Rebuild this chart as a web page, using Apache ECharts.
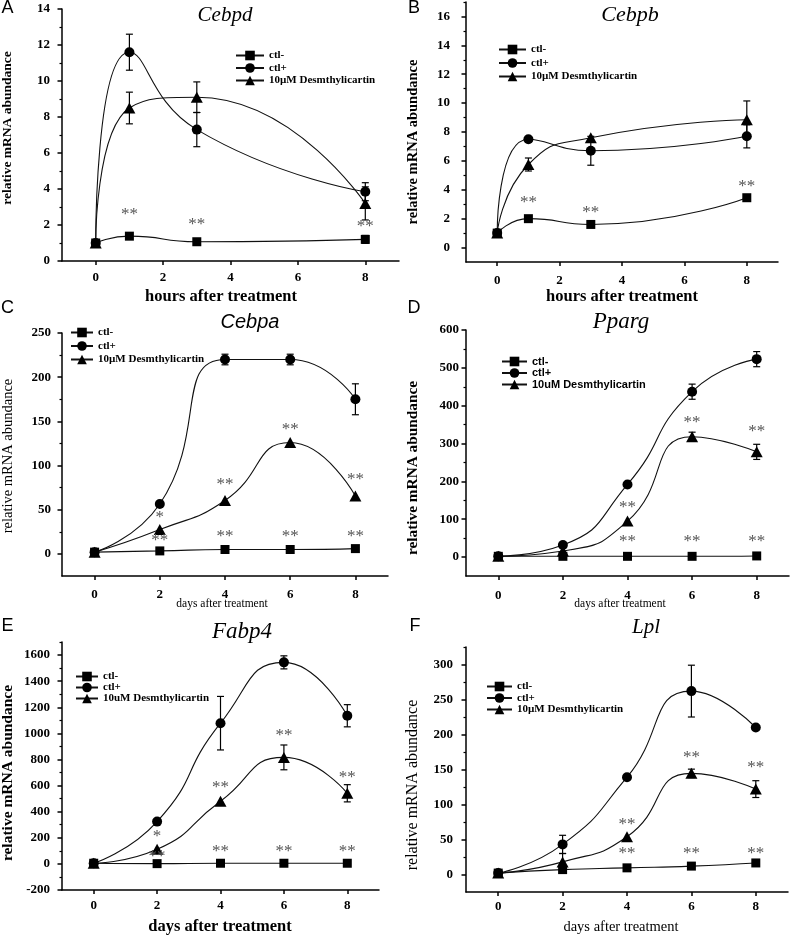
<!DOCTYPE html>
<html><head><meta charset="utf-8">
<script src="https://cdn.jsdelivr.net/npm/echarts@6/dist/echarts.min.js"></script>
<style>html,body{margin:0;padding:0;background:#fff}#c{width:796px;height:936px}</style>
</head><body><div id="c"></div>
<script>
// ---------- data ----------
const hoursX = [0, 1, 3, 8];
const daysX = [0, 2, 4, 6, 8];
const xTickValues = [0, 2, 4, 6, 8];

// A: Cebpd (hours)
const A_ctlMinus = [1.0, 1.38, 1.07, 1.2];
const A_ctlMinusErr = [0, 0, 0, 0.22];
const A_ctlPlus = [1.0, 11.6, 7.3, 3.85];
const A_ctlPlusErr = [0, 1.0, 0.95, 0.5];
const A_desm = [1.0, 8.5, 9.1, 3.2];
const A_desmErr = [0, 0.88, 0.85, 0.92];
const A_stars = [[1, 2.6, '**'], [3, 2.0, '**'], [8, 1.9, '**']];
const A_yMajor = [0, 2, 4, 6, 8, 10, 12, 14];
const A_yMinor = [1, 3, 5, 7, 9, 11, 13];

// B: Cebpb (hours)
const B_ctlMinus = [1.0, 2.0, 1.6, 3.45];
const B_ctlMinusErr = [0, 0, 0, 0];
const B_ctlPlus = [1.0, 7.5, 6.7, 7.7];
const B_ctlPlusErr = [0, 0, 1.0, 0.8];
const B_desm = [1.0, 5.75, 7.6, 8.85];
const B_desmErr = [0, 0.45, 0, 1.3];
const B_stars = [[1, 3.1, '**'], [3, 2.4, '**'], [8, 4.2, '**']];
const B_yMajor = [0, 2, 4, 6, 8, 10, 12, 14, 16];
const B_yMinor = [1, 3, 5, 7, 9, 11, 13, 15, 17];

// C: Cebpa (days)
const C_ctlMinus = [2, 3.4, 5, 5, 6];
const C_ctlMinusErr = [0, 0, 0, 0, 0];
const C_ctlPlus = [2, 56.5, 220, 220, 175];
const C_ctlPlusErr = [0, 0, 6, 6, 17.5];
const C_desm = [2, 27.5, 60.5, 126, 65.5];
const C_desmErr = [0, 0, 0, 0, 0];
const C_stars = [[2, 41, '*'], [2, 15.5, '**'], [4, 79, '**'], [6, 140.5, '**'], [8, 84.5, '**'],
                 [4, 20, '**'], [6, 20, '**'], [8, 20, '**']];
const C_yMajor = [0, 50, 100, 150, 200, 250];
const C_yMinor = [25, 75, 125, 175, 225];

// D: Pparg (days)
const D_ctlMinus = [2, 2, 2, 2, 3];
const D_ctlMinusErr = [0, 0, 0, 0, 0];
const D_ctlPlus = [2, 32, 192, 437, 523];
const D_ctlPlusErr = [0, 0, 0, 20, 20];
const D_desm = [2, 16, 95, 318, 278];
const D_desmErr = [0, 0, 0, 12, 20];
const D_stars = [[4, 130, '**'], [6, 355, '**'], [8, 331, '**'],
                 [4, 40, '**'], [6, 40, '**'], [8, 40, '**']];
const D_yMajor = [0, 100, 200, 300, 400, 500, 600];
const D_yMinor = [50, 150, 250, 350, 450, 550];

// E: Fabp4 (days)
const E_ctlMinus = [5, 2, 5, 5, 5];
const E_ctlMinusErr = [0, 0, 0, 0, 0];
const E_ctlPlus = [5, 324, 1078, 1544, 1135];
const E_ctlPlusErr = [0, 0, 205, 50, 85];
const E_desm = [5, 112, 480, 816, 541];
const E_desmErr = [0, 0, 0, 95, 66];
const E_stars = [[2, 212, '*'], [2, 56, '**'], [4, 587, '**'], [6, 985, '**'], [8, 663, '**'],
                 [4, 92, '**'], [6, 92, '**'], [8, 92, '**']];
const E_yMajor = [-200, 0, 200, 400, 600, 800, 1000, 1200, 1400, 1600];
const E_yMinor = [-100, 100, 300, 500, 700, 900, 1100, 1300, 1500, 1700];

// F: Lpl (days)
const F_ctlMinus = [2, 7, 9.5, 12, 16.5];
const F_ctlMinusErr = [0, 0, 0, 0, 0];
const F_ctlPlus = [2, 43, 139, 262, 210];
const F_ctlPlusErr = [0, 13, 0, 37, 0];
const F_desm = [2, 18, 54, 144.5, 122];
const F_desmErr = [0, 12, 0, 6, 12];
const F_stars = [[4, 72, '**'], [6, 166.5, '**'], [8, 153, '**'],
                 [4, 30, '**'], [6, 30, '**'], [8, 30, '**']];
const F_yMajor = [0, 50, 100, 150, 200, 250, 300];
const F_yMinor = [25, 75, 125, 175, 225, 275, 325];

const nameMinus = 'ctl-';
const namePlus = 'ctl+';
const nameDesmMu = '10\u00B5M Desmthylicartin';
const nameDesmU = '10uM Desmthylicartin';

const panelLetters = ['A', 'B', 'C', 'D', 'E', 'F'];
const geneTitles = ['Cebpd', 'Cebpb', 'Cebpa', 'Pparg', 'Fabp4', 'Lpl'];
const xNames = ['hours after treatment', 'hours after treatment', 'days after treatment',
                'days after treatment', 'days after treatment', 'days after treatment'];
const yName = 'relative mRNA abundance';

// ---------- layout ----------
const SERIF = '"Liberation Serif","Times New Roman",serif';
const SANS = '"Liberation Sans",Arial,sans-serif';

const panels = [
  {x: hoursX, s: [A_ctlMinus, A_ctlPlus, A_desm], e: [A_ctlMinusErr, A_ctlPlusErr, A_desmErr], stars: A_stars,
   major: A_yMajor, minor: A_yMinor, ymin: 0, ymax: 14, desm: nameDesmMu,
   grid: {left: 62, top: 9, width: 337, height: 252}, ylm: 12, xlm: 10,
   legend: {left: 235, top: 50, itemWidth: 28, itemGap: 1.5, font: SERIF},
   letter: [7.5, 8], title: [225, 15, 'italic 21px ' + SERIF],
   xname: [221, 297, 'bold 16.5px ' + SERIF], yname: [8, 128, 'bold 13.5px ' + SERIF]},
  {x: hoursX, s: [B_ctlMinus, B_ctlPlus, B_desm], e: [B_ctlMinusErr, B_ctlPlusErr, B_desmErr], stars: B_stars,
   major: B_yMajor, minor: B_yMinor, ymin: -1, ymax: 17, desm: nameDesmMu,
   grid: {left: 466, top: 2, width: 312, height: 260}, ylm: 16, xlm: 12,
   legend: {left: 498, top: 44, itemWidth: 27, itemGap: 2.5, font: SERIF},
   letter: [414, 8.5], title: [630, 15, 'italic 22px ' + SERIF],
   xname: [622, 297, 'bold 16.5px ' + SERIF], yname: [413, 142, 'bold 14.5px ' + SERIF]},
  {x: daysX, s: [C_ctlMinus, C_ctlPlus, C_desm], e: [C_ctlMinusErr, C_ctlPlusErr, C_desmErr], stars: C_stars,
   major: C_yMajor, minor: C_yMinor, ymin: -25, ymax: 250, desm: nameDesmMu,
   grid: {left: 62, top: 333, width: 326, height: 243}, ylm: 11, xlm: 12.5,
   legend: {left: 70, top: 327, itemWidth: 22, itemGap: 2.5, font: SERIF},
   letter: [7.5, 308], title: [250, 322, 'italic 20px ' + SANS],
   xname: [222, 604, '11.5px ' + SERIF], yname: [8, 456, '14.5px ' + SERIF]},
  {x: daysX, s: [D_ctlMinus, D_ctlPlus, D_desm], e: [D_ctlMinusErr, D_ctlPlusErr, D_desmErr], stars: D_stars,
   major: D_yMajor, minor: D_yMinor, ymin: -50, ymax: 600, desm: nameDesmU,
   grid: {left: 466, top: 330, width: 323, height: 246}, ylm: 7, xlm: 13,
   legend: {left: 501, top: 356, itemWidth: 25, itemGap: 0.5, font: SANS},
   letter: [414, 308], title: [621, 322, 'italic 23px ' + SERIF],
   xname: [620, 604, '11.5px ' + SERIF], yname: [413, 468, 'bold 15.3px ' + SERIF]},
  {x: daysX, s: [E_ctlMinus, E_ctlPlus, E_desm], e: [E_ctlMinusErr, E_ctlPlusErr, E_desmErr], stars: E_stars,
   major: E_yMajor, minor: E_yMinor, ymin: -200, ymax: 1700, desm: nameDesmU,
   grid: {left: 62, top: 642, width: 317, height: 248}, ylm: 12, xlm: 9,
   legend: {left: 75, top: 671, itemWidth: 22, itemGap: 0, font: SERIF},
   letter: [7.5, 626], title: [242, 632, 'italic 23px ' + SERIF],
   xname: [220, 927, 'bold 16.5px ' + SERIF], yname: [8, 773, 'bold 15.5px ' + SERIF]},
  {x: daysX, s: [F_ctlMinus, F_ctlPlus, F_desm], e: [F_ctlMinusErr, F_ctlPlusErr, F_desmErr], stars: F_stars,
   major: F_yMajor, minor: F_yMinor, ymin: -25, ymax: 325, desm: nameDesmMu,
   grid: {left: 466, top: 647, width: 322, height: 245}, ylm: 13, xlm: 8.5,
   legend: {left: 486, top: 681, itemWidth: 25, itemGap: 0.5, font: SERIF},
   letter: [415, 626], title: [646, 627, 'italic 21px ' + SERIF],
   xname: [621, 927, '14.5px ' + SERIF], yname: [413, 785, '16px ' + SERIF]}
];

const symbols = [['rect', 9], ['circle', 10], ['triangle', [12, 11]]];
const plainNumber = v => String(v);

const option = {
  animation: false,
  backgroundColor: '#fff',
  grid: [], xAxis: [], yAxis: [], series: [], legend: [], graphic: []
};

panels.forEach((p, gi) => {
  option.grid.push(Object.assign({containLabel: false}, p.grid));
  option.xAxis.push({
    type: 'value', gridIndex: gi, min: -1, max: 9, position: 'bottom',
    axisLine: {onZero: false, lineStyle: {color: '#000', width: 1.5}},
    axisTick: {show: true, inside: false, length: 4, customValues: xTickValues, lineStyle: {color: '#000', width: 1.5}},
    axisLabel: {customValues: xTickValues, formatter: plainNumber, margin: p.xlm, color: '#000', fontFamily: SERIF, fontWeight: 'bold', fontSize: 13},
    splitLine: {show: false}
  });
  option.yAxis.push({
    type: 'value', gridIndex: gi, min: p.ymin, max: p.ymax, position: 'left',
    axisLine: {onZero: false, lineStyle: {color: '#000', width: 1.5}},
    axisTick: {show: true, inside: false, length: 4.5, customValues: p.major, lineStyle: {color: '#000', width: 1.5}},
    axisLabel: {customValues: p.major, formatter: plainNumber, margin: p.ylm, color: '#000', fontFamily: SERIF, fontWeight: 'bold', fontSize: 13},
    splitLine: {show: false}
  });
  option.yAxis.push({
    type: 'value', gridIndex: gi, min: p.ymin, max: p.ymax, position: 'left',
    axisLine: {show: false, onZero: false},
    axisTick: {show: true, inside: false, length: 2.5, customValues: p.minor, lineStyle: {color: '#000', width: 1.2}},
    axisLabel: {show: false},
    splitLine: {show: false}
  });
  const names = [nameMinus, namePlus, p.desm];
  p.s.forEach((ys, k) => {
    option.series.push({
      type: 'line', name: names[k], xAxisIndex: gi, yAxisIndex: gi * 2,
      data: p.x.map((x, i) => [x, ys[i]]),
      smooth: 0.55, symbol: symbols[k][0], symbolSize: symbols[k][1], showSymbol: true,
      lineStyle: {color: '#111', width: 1.1}, itemStyle: {color: '#000'}, z: 4, silent: true
    });
    const errs = p.e[k];
    const ed = p.x.map((x, i) => [x, ys[i], errs[i]]).filter(d => d[2] > 0);
    if (ed.length) {
      option.series.push({
        type: 'custom', xAxisIndex: gi, yAxisIndex: gi * 2, data: ed, z: 3, silent: true,
        encode: {x: 0, y: 1},
        renderItem: function (params, api) {
          const x = api.value(0), y = api.value(1), e = api.value(2);
          const t = api.coord([x, y + e]), b = api.coord([x, y - e]);
          const w = 3.5, st = {stroke: '#000', lineWidth: 1.2};
          return {type: 'group', children: [
            {type: 'line', shape: {x1: t[0], y1: t[1], x2: b[0], y2: b[1]}, style: st},
            {type: 'line', shape: {x1: t[0] - w, y1: t[1], x2: t[0] + w, y2: t[1]}, style: st},
            {type: 'line', shape: {x1: b[0] - w, y1: b[1], x2: b[0] + w, y2: b[1]}, style: st}
          ]};
        }
      });
    }
  });
  const stars = p.stars;
  option.series.push({
    type: 'custom', xAxisIndex: gi, yAxisIndex: gi * 2, silent: true, z: 5,
    data: stars.map(s => [s[0], s[1]]), encode: {x: 0, y: 1},
    renderItem: function (params, api) {
      const c = api.coord([api.value(0), api.value(1)]);
      return {type: 'text', x: c[0], y: c[1], style: {
        text: stars[params.dataIndex][2], fill: '#555', font: '17px ' + SERIF,
        align: 'center', verticalAlign: 'middle', textAlign: 'center', textVerticalAlign: 'middle'}};
    }
  });
  option.legend.push({
    data: names, orient: 'vertical', left: p.legend.left, top: p.legend.top,
    itemWidth: p.legend.itemWidth, itemHeight: 12, itemGap: p.legend.itemGap, padding: 0,
    selectedMode: false,
    textStyle: {fontFamily: p.legend.font, fontWeight: 'bold', fontSize: 11, color: '#000'}
  });
  const g = option.graphic;
  g.push({type: 'text', x: p.letter[0], y: p.letter[1], style: {text: panelLetters[gi], font: '18px ' + SANS, fill: '#000', align: 'center', verticalAlign: 'middle'}});
  g.push({type: 'text', x: p.title[0], y: p.title[1], style: {text: geneTitles[gi], font: p.title[2], fill: '#000', align: 'center', verticalAlign: 'middle'}});
  g.push({type: 'text', x: p.xname[0], y: p.xname[1], style: {text: xNames[gi], font: p.xname[2], fill: '#000', align: 'center', verticalAlign: 'middle'}});
  g.push({type: 'text', x: p.yname[0], y: p.yname[1], rotation: Math.PI / 2, style: {text: yName, font: p.yname[2], fill: '#000', align: 'center', verticalAlign: 'middle'}});
});

const chart = echarts.init(document.getElementById('c'), null, {renderer: 'canvas'});
chart.setOption(option);
</script></body></html>
